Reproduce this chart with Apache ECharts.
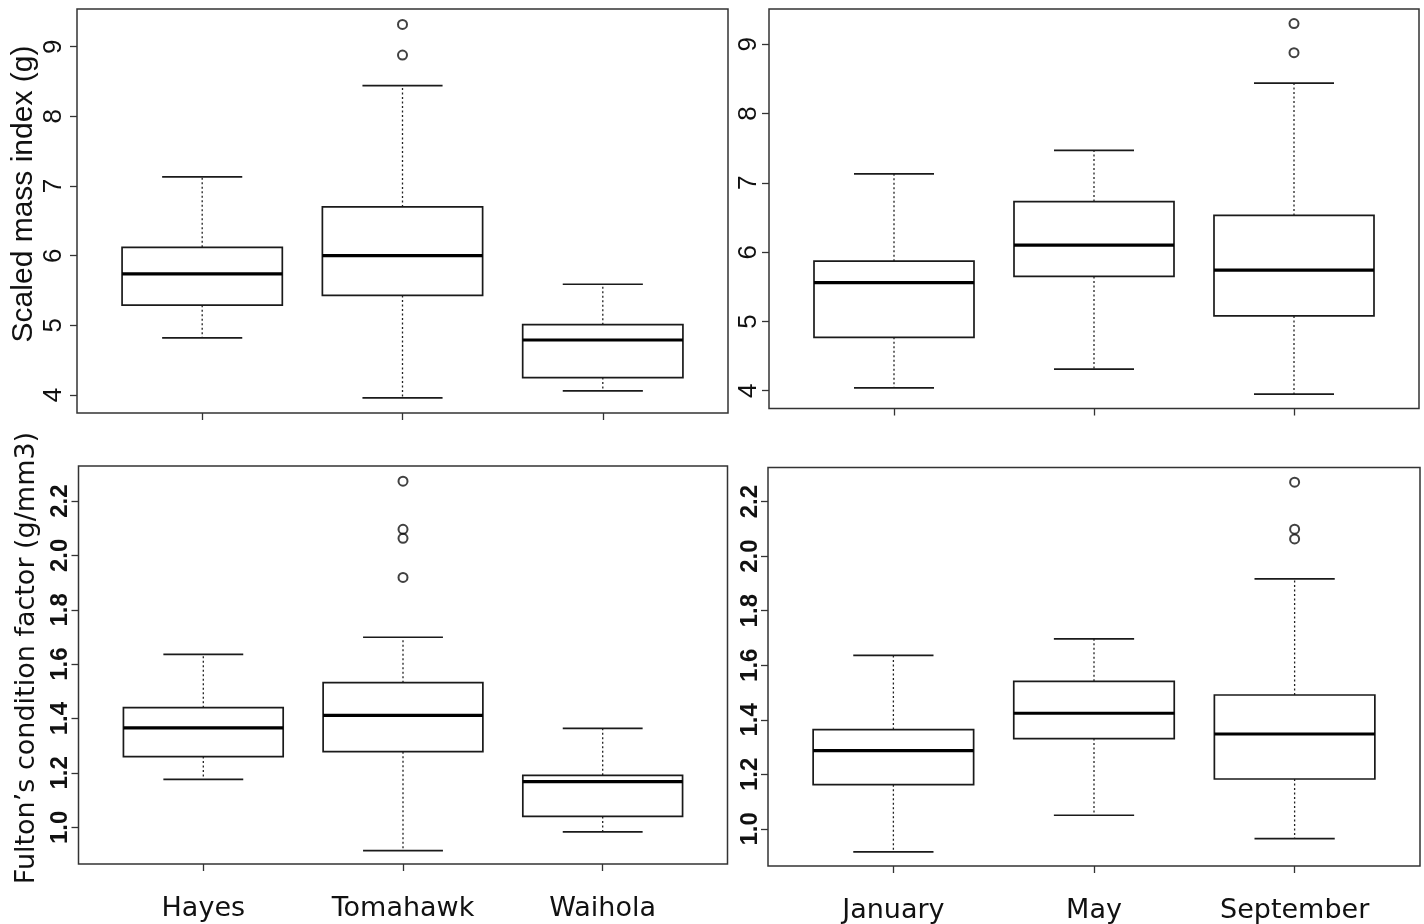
<!DOCTYPE html>
<html>
<head>
<meta charset="utf-8">
<script src="https://cdn.jsdelivr.net/npm/echarts@6/dist/echarts.min.js"></script>
<style>
html,body{margin:0;padding:0;background:#fff;}
#chart{width:1424px;height:924px;}
</style>
</head>
<body>
<div id="chart"></div>
<script>
// ---------- data ----------
const sites = ['Hayes', 'Tomahawk', 'Waihola'];
const months = ['January', 'May', 'September'];
// [lower whisker, Q1, median, Q3, upper whisker]
const smiBySite = [[4.82, 5.29, 5.74, 6.12, 7.13], [3.96, 5.43, 6.00, 6.70, 8.44], [4.06, 4.25, 4.79, 5.01, 5.59]];
const smiBySiteOutliers = [[], [8.88, 9.32], []];
const smiByMonth = [[4.04, 4.77, 5.56, 5.87, 7.13], [4.31, 5.65, 6.10, 6.73, 7.47], [3.95, 5.08, 5.74, 6.53, 8.44]];
const smiByMonthOutliers = [[], [], [8.88, 9.30]];
const kBySite = [[1.176, 1.260, 1.366, 1.440, 1.636], [0.914, 1.278, 1.412, 1.532, 1.699], [0.983, 1.040, 1.168, 1.191, 1.364]];
const kBySiteOutliers = [[], [1.919, 2.063, 2.096, 2.273], []];
const kByMonth = [[0.916, 1.162, 1.287, 1.364, 1.636], [1.050, 1.331, 1.424, 1.541, 1.697], [0.964, 1.183, 1.348, 1.491, 1.917]];
const kByMonthOutliers = [[], [], [2.063, 2.099, 2.271]];
const smiTicks = [4, 5, 6, 7, 8, 9];
const kTicks = [1.0, 1.2, 1.4, 1.6, 1.8, 2.0, 2.2];
const xPositions = [1, 2, 3];
const smiTitle = 'Scaled mass index (g)';
const kTitle = 'Fulton\u2019s condition factor (g/mm3)';

// ---------- layout ----------
const panels = [
  {grid: {left: 77, top: 9, width: 651, height: 404}, yMin: 3.742, yMax: 9.541, ticks: smiTicks, cats: sites, showX: false, stats: smiBySite, outs: smiBySiteOutliers, labelSize: 26, labelWeight: 'normal', labelMargin: 10, dec: 0},
  {grid: {left: 769, top: 9, width: 650, height: 399.5}, yMin: 3.743, yMax: 9.51, ticks: smiTicks, cats: months, showX: false, stats: smiByMonth, outs: smiByMonthOutliers, labelSize: 26, labelWeight: 'normal', labelMargin: 7, dec: 0},
  {grid: {left: 78.5, top: 466, width: 649, height: 398}, yMin: 0.865, yMax: 2.329, ticks: kTicks, cats: sites, showX: true, stats: kBySite, outs: kBySiteOutliers, labelSize: 24, labelWeight: 'bold', labelMargin: 6, dec: 1},
  {grid: {left: 768, top: 467.5, width: 652, height: 399}, yMin: 0.864, yMax: 2.325, ticks: kTicks, cats: months, showX: true, stats: kByMonth, outs: kByMonthOutliers, labelSize: 24, labelWeight: 'bold', labelMargin: 6, dec: 1}
];

const ink = '#1a1a1a';

function renderBox(params, api) {
  const x = api.value(0);
  const lo = api.coord([x, api.value(1)]);
  const q1 = api.coord([x, api.value(2)]);
  const md = api.coord([x, api.value(3)]);
  const q3 = api.coord([x, api.value(4)]);
  const hi = api.coord([x, api.value(5)]);
  const boxW = api.size([0.8, 0])[0];
  const capW = api.size([0.4, 0])[0];
  const cx = md[0];
  const dash = {stroke: '#222', lineWidth: 1.3, lineDash: [2, 2.5]};
  const solid = {stroke: ink, lineWidth: 1.7};
  return {
    type: 'group',
    children: [
      {type: 'line', shape: {x1: cx, y1: q3[1], x2: cx, y2: hi[1]}, style: dash},
      {type: 'line', shape: {x1: cx, y1: q1[1], x2: cx, y2: lo[1]}, style: dash},
      {type: 'line', shape: {x1: cx - capW / 2, y1: hi[1], x2: cx + capW / 2, y2: hi[1]}, style: solid},
      {type: 'line', shape: {x1: cx - capW / 2, y1: lo[1], x2: cx + capW / 2, y2: lo[1]}, style: solid},
      {type: 'rect', shape: {x: cx - boxW / 2, y: q3[1], width: boxW, height: q1[1] - q3[1]}, style: {fill: 'rgba(0,0,0,0)', stroke: ink, lineWidth: 1.7}},
      {type: 'line', shape: {x1: cx - boxW / 2, y1: md[1], x2: cx + boxW / 2, y2: md[1]}, style: {stroke: '#000', lineWidth: 3.2}}
    ]
  };
}

const grids = [], xAxes = [], yAxes = [], series = [];
panels.forEach((p, i) => {
  grids.push(Object.assign({show: true, borderColor: '#333', borderWidth: 1.5, backgroundColor: 'rgba(0,0,0,0)'}, p.grid));
  xAxes.push({
    type: 'value', gridIndex: i, min: 0.375, max: 3.625,
    axisLine: {show: false},
    splitLine: {show: false},
    axisTick: {show: true, customValues: xPositions, length: 7, lineStyle: {color: '#333', width: 1.3}},
    axisLabel: {
      show: p.showX, customValues: xPositions, margin: 31,
      formatter: (v) => p.cats[Math.round(v) - 1] || '',
      fontFamily: 'DejaVu Sans', fontSize: 27, color: '#111'
    }
  });
  yAxes.push({
    type: 'value', gridIndex: i, min: p.yMin, max: p.yMax,
    axisLine: {show: false},
    splitLine: {show: false},
    axisTick: {show: true, customValues: p.ticks, length: 7, lineStyle: {color: '#333', width: 1.3}},
    axisLabel: {
      customValues: p.ticks, rotate: 90, margin: p.labelMargin,
      formatter: (v) => Number(v).toFixed(p.dec),
      fontFamily: 'Liberation Sans', fontSize: p.labelSize, fontWeight: p.labelWeight, color: '#111'
    }
  });
  series.push({
    type: 'custom', xAxisIndex: i, yAxisIndex: i,
    renderItem: renderBox,
    encode: {x: 0, y: [1, 2, 3, 4, 5]},
    data: p.stats.map((s, k) => [xPositions[k]].concat(s))
  });
  const outData = [];
  p.outs.forEach((arr, k) => arr.forEach(v => outData.push([xPositions[k], v])));
  series.push({
    type: 'scatter', xAxisIndex: i, yAxisIndex: i,
    symbol: 'circle', symbolSize: 9,
    itemStyle: {color: 'rgba(0,0,0,0)', borderColor: '#111', borderWidth: 2},
    data: outData
  });
});

const chart = echarts.init(document.getElementById('chart'), null, {renderer: 'canvas'});
chart.setOption({
  backgroundColor: '#fff',
  animation: false,
  grid: grids,
  xAxis: xAxes,
  yAxis: yAxes,
  series: series,
  graphic: [
    {type: 'text', x: 24, y: 194, rotation: Math.PI / 2,
     style: {text: smiTitle, font: '30px "Liberation Sans"', fill: '#111', textAlign: 'center', textVerticalAlign: 'middle'}},
    {type: 'text', x: 27, y: 658, rotation: Math.PI / 2,
     style: {text: kTitle, font: '27px "DejaVu Sans"', fill: '#111', textAlign: 'center', textVerticalAlign: 'middle'}}
  ]
});
</script>
</body>
</html>
